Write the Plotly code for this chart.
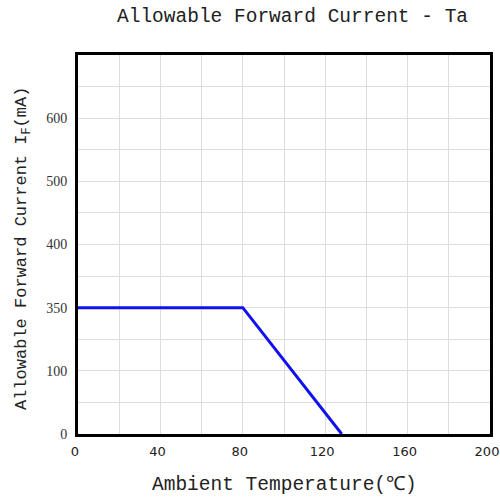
import plotly.graph_objects as go

# Data
temps = [0, 80, 128]                      # Ambient temperature (°C)
currents = [350, 350, 0]                  # Allowable forward current (mA)
y_tick_labels = [0, 100, 350, 400, 500, 600]   # non-linear labels on evenly spaced ticks
y_tick_pos = [0, 2, 4, 6, 8, 10]
x_ticks = [0, 40, 80, 120, 160, 200]

# map mA values onto the evenly spaced label positions
label_to_pos = dict(zip(y_tick_labels, y_tick_pos))
y_vals = [label_to_pos[c] for c in currents]

mono = "Liberation Mono"

# plot area in pixels
L, R, T, B = 78, 490, 55, 434
W, H = 500, 499


def px(x):
    return (x - L) / (R - L)


def py(y):
    return (B - y) / (B - T)


fig = go.Figure()
fig.add_trace(go.Scatter(
    x=temps, y=y_vals, mode="lines",
    line=dict(color="#1010f0", width=3),
    showlegend=False, hoverinfo="skip",
))

fig.update_layout(
    width=W, height=H,
    margin=dict(l=L, r=W - R, t=T, b=H - B),
    paper_bgcolor="white", plot_bgcolor="white",
    annotations=[
        dict(text="Allowable Forward Current - Ta", x=px(292), y=py(17),
             xref="paper", yref="paper", showarrow=False,
             xanchor="center", yanchor="middle",
             font=dict(family=mono, size=19.5, color="#222")),
        dict(text="Ambient Temperature(℃)", x=px(284), y=py(485),
             xref="paper", yref="paper", showarrow=False,
             xanchor="center", yanchor="middle",
             font=dict(family=mono, size=19.5, color="#222")),
        dict(text="Allowable Forward Current I<sub>F</sub>(mA)", x=px(23), y=py(249),
             xref="paper", yref="paper", showarrow=False, textangle=-90,
             xanchor="center", yanchor="middle",
             font=dict(family=mono, size=17, color="#222")),
    ],
)

fig.update_xaxes(
    range=[0, 200], tickvals=x_ticks, ticktext=[str(v) for v in x_ticks],
    showgrid=True, gridcolor="#dddddd", gridwidth=1,
    minor=dict(dtick=20, showgrid=True, gridcolor="#dddddd", gridwidth=1),
    showline=True, linecolor="black", linewidth=3, mirror=True,
    ticks="", zeroline=False, automargin=False,
    ticklabeloverflow="allow", ticklabelshift=-3, ticklabelstandoff=3,
    tickfont=dict(family="DejaVu Sans", size=13, color="#222"),
)
fig.update_yaxes(
    range=[0, 12], tickvals=y_tick_pos, ticktext=[str(v) for v in y_tick_labels],
    showgrid=True, gridcolor="#dddddd", gridwidth=1,
    minor=dict(dtick=1, showgrid=True, gridcolor="#dddddd", gridwidth=1),
    showline=True, linecolor="black", linewidth=3, mirror=True,
    ticks="", zeroline=False, automargin=False, ticklabelstandoff=5,
    tickfont=dict(family="Liberation Serif", size=14, color="#333"),
)

fig.write_html("out.html", config={"displayModeBar": False},
               post_script="document.body.style.margin='0';")
